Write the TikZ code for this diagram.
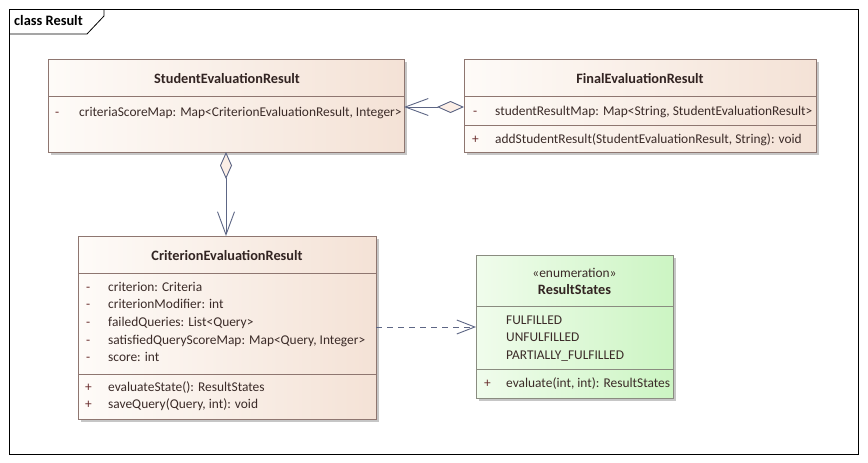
\documentclass[tikz,border=0pt]{standalone}
\usepackage{fontspec}
\setmainfont{Carlito}
\usetikzlibrary{arrows.meta}

\definecolor{clsL}{HTML}{FEFBF8}
\definecolor{clsR}{HTML}{F4E2D6}
\definecolor{enL}{HTML}{F0FCEC}
\definecolor{enR}{HTML}{CCF5C3}
\definecolor{clsline}{HTML}{8E7670}
\definecolor{enline}{HTML}{8A8C80}
\definecolor{shadowc}{HTML}{C6C6C6}
\definecolor{txt}{HTML}{3B2B28}
\definecolor{vis}{HTML}{6A2E2E}
\definecolor{conn}{HTML}{5D6685}
\definecolor{dmd}{HTML}{FBEEE6}

\tikzset{
  x=1pt, y=-1pt,
  boxbase/.style={rectangle, inner sep=0pt, outer sep=0pt, anchor=north west, line width=0.8pt},
  classbox/.style={boxbase, draw=clsline, left color=clsL, right color=clsR},
  enumbox/.style={boxbase, draw=enline, left color=enL, right color=enR},
  sep/.style={draw=clsline, line width=0.8pt},
  enumsep/.style={draw=enline, line width=0.8pt},
  member/.style={anchor=base west, inner sep=0pt, text=txt, font=\fontsize{13.4}{15}\selectfont},
  visib/.style={anchor=base west, inner sep=0pt, text=vis, font=\fontsize{13.4}{15}\selectfont},
  title/.style={anchor=base, inner sep=0pt, text=txt!85!black, font=\fontsize{14.3}{16}\selectfont\bfseries},
  conline/.style={draw=conn, line width=0.9pt},
  aggr/.style={conline, {Diamond[length=27pt, width=12pt, fill=dmd, line width=0.9pt]}-{Straight Barb[length=23pt, width=17pt, line width=0.9pt]}},
  depend/.style={conline, dash pattern=on 6pt off 5pt, -{Straight Barb[length=18pt, width=14pt, line width=0.9pt]}},
}

% shadow + box node: name, x1, y1, x2, y2, style
\newcommand{\umlbox}[6]{%
  \fill[shadowc] (#2+3,#3+3) rectangle (#4+3,#5+3);
  \node[#6, minimum width=#4-#2, minimum height=#5-#3] (#1) at (#2,#3) {};
}

\begin{document}
\begin{tikzpicture}
\useasboundingbox (0,0) rectangle (868,463);
\fill[white] (0,0) rectangle (868,463);

% diagram frame and its name tab
\draw[black, line width=0.8pt] (9,9) rectangle (858,454);
\draw[black, line width=0.8pt] (9,34) -- (87,34) -- (104,16) -- (104,9);
\node[anchor=base west, inner sep=0pt, font=\fontsize{14.4}{16}\selectfont\bfseries] (frametitle) at (14,25) {class Result};

% StudentEvaluationResult
\umlbox{student}{48}{59}{404}{152}{classbox}
\draw[sep] (48,96) -- (404,96);
\node[title] (st) at (227,83) {StudentEvaluationResult};
\node[visib] (sv1) at (55,116) {-};
\node[member] (sa1) at (79,116) {criteriaScoreMap: Map<CriterionEvaluationResult, Integer>};

% FinalEvaluationResult
\umlbox{final}{464}{59}{816}{152}{classbox}
\draw[sep] (464,96) -- (816,96);
\draw[sep] (464,125) -- (816,125);
\node[title] (ft) at (640,83) {FinalEvaluationResult};
\node[visib] (fv1) at (473,115) {-};
\node[member] (fa1) at (495,115) {studentResultMap: Map<String, StudentEvaluationResult>};
\node[visib] (fv2) at (472,143) {+};
\node[member] (fm1) at (495,143) {addStudentResult(StudentEvaluationResult, String): void};

% CriterionEvaluationResult
\umlbox{criterion}{78}{236}{376}{419}{classbox}
\draw[sep] (78,273) -- (376,273);
\draw[sep] (78,374) -- (376,374);
\node[title] (ct) at (227,260) {CriterionEvaluationResult};
\foreach \n/\yy/\t in {1/291/{criterion: Criteria},
                       2/308/{criterionModifier: int},
                       3/326/{failedQueries: List<Query>},
                       4/344/{satisfiedQueryScoreMap: Map<Query, Integer>},
                       5/361/{score: int}}{
  \node[visib] (cv\n) at (86,\yy) {-};
  \node[member] (ca\n) at (108,\yy) {\t};
}
\node[visib] (cv6) at (85,391) {+};
\node[member] (cm1) at (108,391) {evaluateState(): ResultStates};
\node[visib] (cv7) at (85,408) {+};
\node[member] (cm2) at (108,408) {saveQuery(Query, int): void};

% ResultStates enumeration
\umlbox{states}{476}{255}{673}{398}{enumbox}
\draw[enumsep] (476,306) -- (673,306);
\draw[enumsep] (476,369) -- (673,369);
\node[anchor=base, inner sep=0pt, text=txt, font=\fontsize{13.4}{15}\selectfont] (stereo) at (574.5,277) {«enumeration»};
\node[title] (et) at (574.5,294) {ResultStates};
\node[member] (e1) at (506,324) {FULFILLED};
\node[member] (e2) at (506,341) {UNFULFILLED};
\node[member] (e3) at (506,359) {PARTIALLY\_FULFILLED};
\node[visib] (ev1) at (484,387) {+};
\node[member] (em1) at (506,387) {evaluate(int, int): ResultStates};

% connectors
\draw[aggr] (final.west |- 0,107) -- (student.east |- 0,107);
\draw[aggr] (student.south) -- (student.south |- criterion.north);
\draw[depend] (criterion.east |- 0,327) -- (states.west |- 0,327);
\end{tikzpicture}
\end{document}
